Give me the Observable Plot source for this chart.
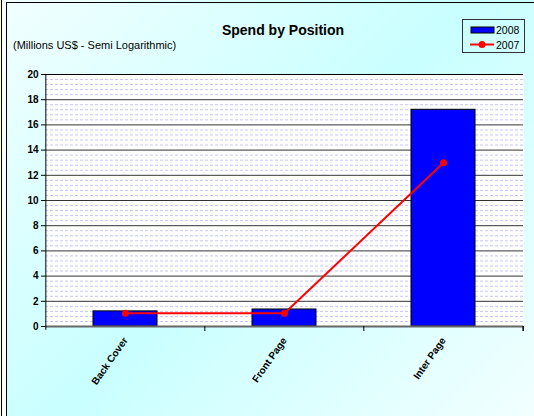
<!DOCTYPE html>
<html>
<head>
<meta charset="utf-8">
<script src="https://cdn.jsdelivr.net/npm/d3@7"></script>
<script src="https://cdn.jsdelivr.net/npm/@observablehq/plot@0.6"></script>
<style>
  html, body { margin: 0; padding: 0; }
  body { width: 534px; height: 416px; overflow: hidden; font-family: Arial, "Liberation Sans", sans-serif; }
  #wrap { position: relative; width: 534px; height: 416px;
    background: linear-gradient(135deg, #f2ffff 0%, #c9ffff 50%, #f2ffff 100%); }
  #edge { position: absolute; left: 0; top: 0; width: 1px; height: 416px; background: #ffffcc; }
  #edge2 { position: absolute; left: 1px; top: 0; width: 1px; height: 416px; background: #000; }
  #frameL { position: absolute; left: 6px; top: 2px; width: 1px; height: 414px; background: #000; }
  #frameT { position: absolute; left: 6px; top: 2px; width: 528px; height: 1px; background: #000; }
  #gapfill { position: absolute; left: 2px; top: 0; width: 4px; height: 416px; background: #f6ffff; }
  #title { position: absolute; left: 0; width: 566px; top: 22px; text-align: center; font-weight: bold; font-size: 14px; color: #000; }
  #subtitle { position: absolute; left: 13px; top: 39px; font-size: 11px; color: #000; }
  #legend { position: absolute; left: 462px; top: 19px; width: 61px; height: 32px; border: 1px solid #333; background: transparent; }
  #plot { position: absolute; left: 0; top: 0; }
</style>
</head>
<body>
<div id="wrap">
  <div id="gapfill"></div>
  <div id="edge"></div>
  <div id="edge2"></div>
  <div id="frameL"></div>
  <div id="frameT"></div>
  <div id="plot"></div>
  <div id="title">Spend by Position</div>
  <div id="subtitle">(Millions US$ - Semi Logarithmic)</div>
  <div id="legend">
    <svg width="61" height="32" style="position:absolute;left:0;top:0;font-family:Arial, 'Liberation Sans', sans-serif;font-size:10.5px">
      <rect x="8" y="7" width="23" height="6" fill="#0000ff" stroke="#000" stroke-width="1"></rect>
      <text x="33" y="13.5" fill="#000">2008</text>
      <line x1="7" x2="31" y1="24.5" y2="24.5" stroke="#ff0000" stroke-width="2"></line>
      <circle cx="19" cy="24.5" r="3.5" fill="#ff0000"></circle>
      <text x="33" y="29" fill="#000">2007</text>
    </svg>
  </div>
</div>
<script>
const categories = ["Back Cover", "Front Page", "Inter Page"];
const values2008 = [1.2, 1.35, 17.2];
const values2007 = [1.06, 1.05, 13.0];
const yTicks = [0, 2, 4, 6, 8, 10, 12, 14, 16, 18, 20];
const minorTicks = d3.range(0, 20, 0.4).filter(v => Math.abs(v / 2 - Math.round(v / 2)) > 1e-6);

const W = 534, H = 416;
const mL = 45, mR = 11, mT = 74, mB = 90;
const step = (W - mL - mR) / categories.length;

const bars = categories.map((c, i) => ({cat: c, v: values2008[i]}));
const line = categories.map((c, i) => ({cat: c, v: values2007[i]}));
const last = categories[categories.length - 1];

const chart = Plot.plot({
  width: W, height: H,
  marginLeft: mL, marginRight: mR, marginTop: mT, marginBottom: mB,
  style: {background: "transparent", fontFamily: "Arial, 'Liberation Sans', sans-serif", overflow: "visible"},
  x: {domain: categories, paddingInner: 0.6, paddingOuter: 0.3, label: null},
  y: {domain: [0, 20], label: null},
  marks: [
    Plot.frame({fill: "white", stroke: null}),
    Plot.ruleY(minorTicks, {stroke: "#c4c4ff", strokeWidth: 1, strokeDasharray: "3,2"}),
    Plot.ruleY(yTicks.filter(v => v > 0 && v < 20), {stroke: "#333", strokeWidth: 1}),
    Plot.ruleY([20], {stroke: "#000", strokeWidth: 1.2}),
    Plot.barY(bars, {x: "cat", y: "v", fill: "#0000ff", stroke: "#000", strokeWidth: 1}),
    Plot.ruleY([0], {stroke: "#666", strokeWidth: 2}),
    Plot.ruleX([categories[0]], {x: d => d, dx: -step / 2, y1: -0.3, y2: 20, stroke: "#000", strokeWidth: 1}),
    Plot.ruleX(categories.slice(1), {x: d => d, dx: -step / 2, y1: 0, y2: -0.4, stroke: "#000", strokeWidth: 1}),
    Plot.ruleX([last], {x: d => d, dx: step / 2, y1: 0, y2: -0.4, stroke: "#000", strokeWidth: 1.5}),
    Plot.line(line, {x: "cat", y: "v", stroke: "#ff0000", strokeWidth: 2}),
    Plot.dot(line, {x: "cat", y: "v", symbol: "circle", r: 3.5, fill: "#ff0000", stroke: "none"}),
    Plot.axisY({ticks: yTicks, tickSize: 4, tickPadding: 3, tickFormat: d => String(d), fontWeight: "bold", fontSize: 10, stroke: "#000"}),
    Plot.axisX({tickSize: 0, tickRotate: -55, tickPadding: 12, fontWeight: "bold", fontSize: 10})
  ]
});
document.getElementById("plot").appendChild(chart);
</script>
</body>
</html>
